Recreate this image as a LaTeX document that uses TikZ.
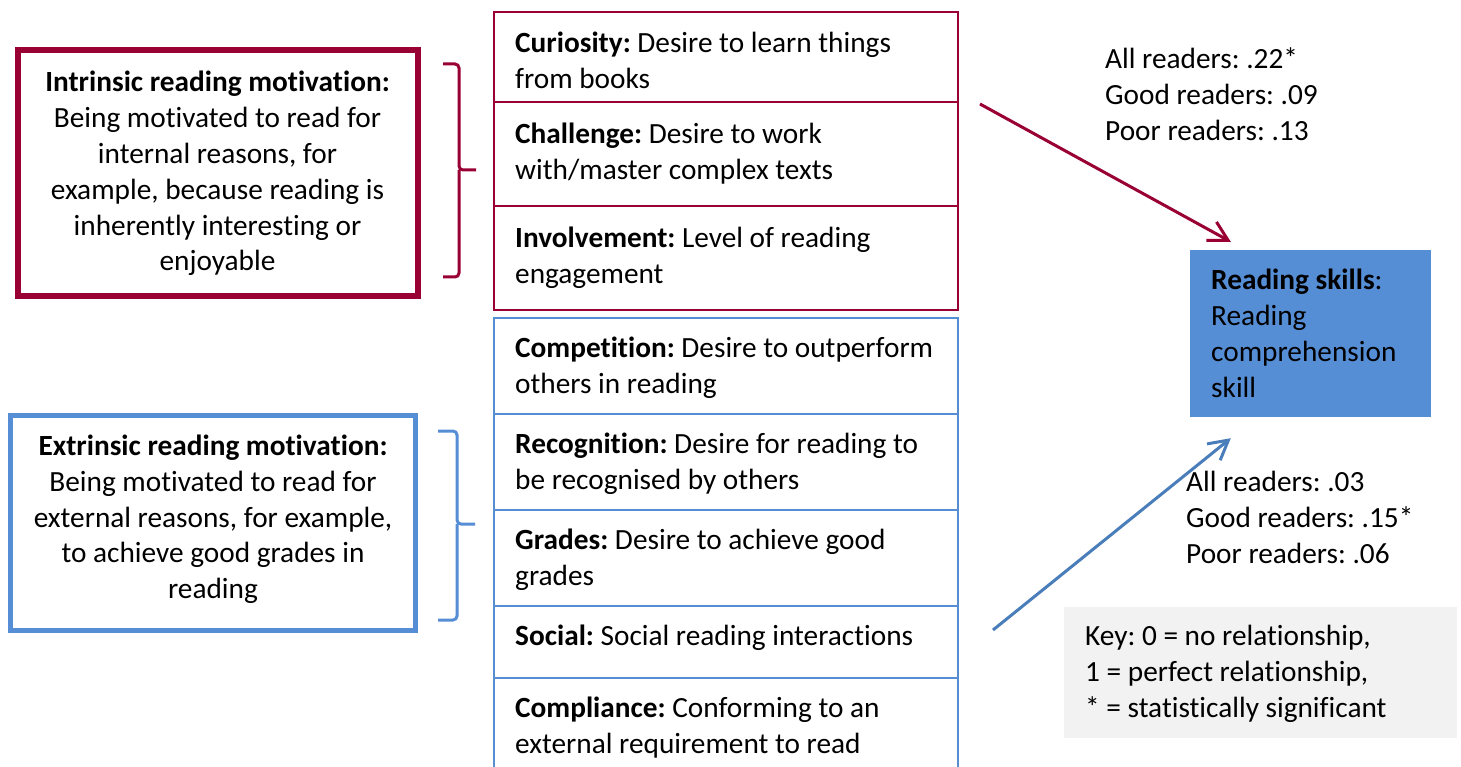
\documentclass[tikz,border=0pt]{standalone}
\usepackage{fontspec}
\setmainfont{Carlito}[Ligatures=NoCommon]
\usetikzlibrary{arrows.meta}
\definecolor{ired}{RGB}{153,0,51}
\definecolor{eblue}{RGB}{85,142,213}
\definecolor{ablue}{RGB}{74,126,187}
\definecolor{keygray}{RGB}{242,242,242}
\newcommand\ltab[1]{\begin{tabular}[t]{@{}l@{}}#1\end{tabular}}
\newcommand\ctab[1]{\begin{tabular}[t]{@{}c@{}}#1\end{tabular}}
\frenchspacing
\begin{document}
\begin{tikzpicture}[x=1pt,y=-1pt,
  txt/.style={inner sep=0pt, anchor=base west, font=\fontsize{29.3}{35.8}\selectfont},
  ctxt/.style={inner sep=0pt, anchor=base, font=\fontsize{29.3}{35.8}\selectfont},
  redbox/.style={draw=ired, line width=2pt, minimum width=464pt, inner sep=0pt},
  bluebox/.style={draw=eblue, line width=2pt, minimum width=464pt, inner sep=0pt},
  bigbox/.style={line width=6pt, inner sep=0pt},
  brace/.style={line width=3pt, rounded corners=4pt},
  conn/.style={line width=3pt, -{Straight Barb[length=19pt,width=21pt]}},
]
\useasboundingbox (0,0) rectangle (1461,767);
\clip (0,0) rectangle (1461,767);

% left boxes
\node[bigbox, draw=ired, minimum width=400pt, minimum height=246pt] (intr) at (218,173) {};
\node[ctxt] (intrt) at (217.5,92) {\ctab{\textbf{Intrinsic reading motivation:}\\Being motivated to read for\\internal reasons, for\\example, because reading is\\inherently interesting or\\enjoyable}};

\node[bigbox, line width=5pt, draw=eblue, minimum width=405pt, minimum height=215pt] (extr) at (213,523) {};
\node[ctxt] (extrt) at (213,455.5) {\ctab{\textbf{Extrinsic reading motivation:}\\Being motivated to read for\\external reasons, for example,\\to achieve good grades in\\reading}};

% braces
\draw[brace, ired] (443,64) -- (459,64) -- (459,170) -- (476,170) (459,170) -- (459,277) -- (443,277);
\draw[brace, eblue] (438,431) -- (457,431) -- (457,524) -- (475,524) (457,524) -- (457,620) -- (438,620);

% middle column boxes
\node[redbox, minimum height=90pt] (cur) at (726,57) {};
\node[redbox, minimum height=104pt] (cha) at (726,154) {};
\node[redbox, minimum height=104pt] (inv) at (726,258) {};
\node[bluebox, minimum height=96pt] (com) at (726,366) {};
\node[bluebox, minimum height=96pt] (rec) at (726,462) {};
\node[bluebox, minimum height=96pt] (gra) at (726,558) {};
\node[bluebox, minimum height=72pt] (soc) at (726,642) {};
\node[bluebox, minimum height=112pt] (cpl) at (726,734) {};

\node[txt] (curt) at (515,52.5) {\ltab{\textbf{Curiosity:} Desire to learn things\\from books}};
\node[txt] (chat) at (515,143.5) {\ltab{\textbf{Challenge:} Desire to work\\with/master complex texts}};
\node[txt] (invt) at (515,247.5) {\ltab{\textbf{Involvement:} Level of reading\\engagement}};
\node[txt] (comt) at (515,357.5) {\ltab{\textbf{Competition:} Desire to outperform\\others in reading}};
\node[txt] (rect) at (515,453.5) {\ltab{\textbf{Recognition:} Desire for reading to\\be recognised by others}};
\node[txt] (grat) at (515,549.5) {\ltab{\textbf{Grades:} Desire to achieve good\\grades}};
\node[txt] (soct) at (515,645.5) {\ltab{\textbf{Social:} Social reading interactions}};
\node[txt] (cplt) at (515,717.5) {\ltab{\textbf{Compliance:} Conforming to an\\external requirement to read}};

% reading skills
\node[fill=eblue, minimum width=241pt, minimum height=167pt, inner sep=0pt] (rs) at (1310.5,333.5) {};
\node[txt] (rst) at (1211,290) {\ltab{\textbf{Reading skills}:\\Reading\\comprehension\\skill}};

% numbers
\node[txt] (num1) at (1105,68.5) {\ltab{All readers: .22*\\Good readers: .09\\Poor readers: .13}};
\node[txt] (num2) at (1186,491.5) {\ltab{All readers: .03\\Good readers: .15*\\Poor readers: .06}};

% key
\node[fill=keygray, minimum width=393pt, minimum height=131pt, inner sep=0pt] (key) at (1260.5,672.5) {};
\node[txt] (keyt) at (1085,645.5) {\ltab{Key: 0 = no relationship,\\1 = perfect relationship,\\{}* = statistically significant}};

% connectors
\coordinate (rstart) at (980,104);
\coordinate (bstart) at (993,630);
\draw[conn, ired] (rstart) -- ([xshift=41pt,yshift=8pt]rs.north west);
\draw[conn, ablue] (bstart) -- ([xshift=41pt,yshift=-21pt]rs.south west);
\end{tikzpicture}
\end{document}
